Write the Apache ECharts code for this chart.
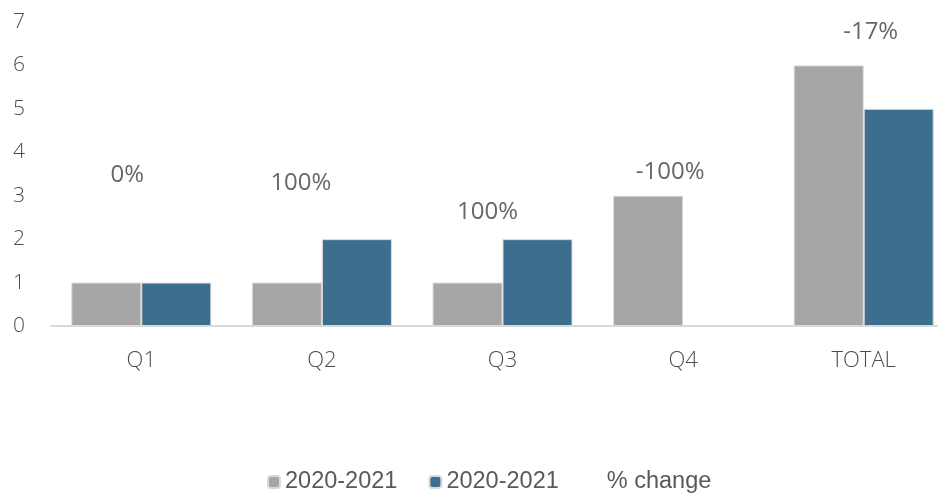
<!DOCTYPE html>
<html>
<head>
<meta charset="utf-8">
<script src="https://cdn.jsdelivr.net/npm/echarts@6/dist/echarts.min.js"></script>
<style>
html,body{margin:0;padding:0;background:#fff;}
#chart{width:938px;height:494px;}
</style>
</head>
<body>
<div id="chart"></div>
<script>
// ---- data ----
var categories = ['Q1', 'Q2', 'Q3', 'Q4', 'TOTAL'];
var seriesA = [1, 1, 1, 3, 6];
var seriesB = [1, 2, 2, 0, 5];
var pctChange = ['0%', '100%', '100%', '-100%', '-17%'];
var pctLabelLevel = [3.48, 3.29, 2.62, 3.55, 6.77];
var yTicks = [0, 1, 2, 3, 4, 5, 6, 7];
var legendNames = ['2020-2021', '2020-2021', '% change'];

// ---- layout (not data) ----
var labelDx = [-14, -21, -15, -13, 7];

var chart = echarts.init(document.getElementById('chart'), null, {renderer: 'canvas'});
var font = '"Open Sans", sans-serif';
var seriesIds = ['A', 'B', 'C'];

var pctData = pctLabelLevel.map(function (v, i) {
  return {
    value: [categories[i], v],
    label: {offset: [labelDx[i], 0]}
  };
});

chart.setOption({
  animation: false,
  backgroundColor: '#ffffff',
  grid: {left: 51, right: -16, top: 22, bottom: 168, containLabel: false, outerBoundsMode: 'none'},
  legend: {
    left: 262,
    top: 465,
    itemWidth: 12,
    itemHeight: 12,
    itemGap: 31,
    textStyle: {fontFamily: '"Liberation Sans", Arial, sans-serif', fontSize: 23.5, color: '#595959'},
    formatter: function (n) { return legendNames[seriesIds.indexOf(n)]; },
    data: [
      {name: 'A'},
      {name: 'B'},
      {name: 'C', icon: 'none'}
    ]
  },
  xAxis: {
    type: 'category',
    data: categories,
    axisLine: {show: true, lineStyle: {color: '#d9d9d9', width: 2}},
    axisTick: {show: false},
    axisLabel: {fontFamily: font, fontSize: 22, fontWeight: 300, color: '#4d4d4d', margin: 24},
    splitLine: {show: false}
  },
  yAxis: {
    type: 'value',
    min: yTicks[0],
    max: yTicks[yTicks.length - 1],
    interval: 1,
    axisLine: {show: false},
    axisTick: {show: false},
    splitLine: {show: false},
    axisLabel: {fontFamily: font, fontSize: 21, fontWeight: 300, color: '#4d4d4d', margin: 26}
  },
  series: [
    {
      name: 'A',
      type: 'bar',
      data: seriesA,
      barWidth: 70,
      barGap: '0%',
      itemStyle: {color: '#a6a6a6', borderColor: '#d9d9d9', borderWidth: 1}
    },
    {
      name: 'B',
      type: 'bar',
      data: seriesB,
      barWidth: 70,
      barGap: '0%',
      itemStyle: {color: '#3b6e8f', borderColor: '#d9d9d9', borderWidth: 1}
    },
    {
      name: 'C',
      type: 'scatter',
      data: pctData,
      symbolSize: 1,
      itemStyle: {color: 'rgba(0,0,0,0)'},
      label: {
        show: true,
        position: 'inside',
        fontFamily: font,
        fontSize: 24,
        fontWeight: 400,
        color: '#404040',
        formatter: function (p) { return pctChange[p.dataIndex]; }
      }
    }
  ]
});
</script>
</body>
</html>
